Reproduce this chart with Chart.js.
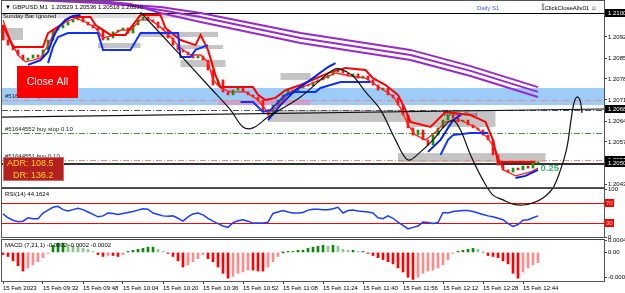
<!DOCTYPE html>
<html>
<head>
<meta charset="utf-8">
<script src="https://cdn.jsdelivr.net/npm/chart.js@4.4.0/dist/chart.umd.min.js"></script>
<style>
  html, body { margin: 0; padding: 0; background: #fff; }
  #wrap { position: relative; width: 625px; height: 293px; overflow: hidden; background: #fff; }
  canvas { position: absolute; left: 0; }
  #priceChart { top: 0; z-index: 3; }
  #rsiChart { top: 182px; z-index: 1; }
  #macdChart { top: 232px; z-index: 2; }
</style>
</head>
<body>
<div id="wrap">
  <canvas id="priceChart" width="625" height="215"></canvas>
  <canvas id="rsiChart" width="625" height="57"></canvas>
  <canvas id="macdChart" width="625" height="61"></canvas>
</div>
<script>
// GBPUSD M1, 15 Feb 2023 - candles drawn per 2 minutes, x = minutes since first bar
const firstBar = '09:16';
const candleStep = 2;
const firstOpen = 1.20960;
const closes = [
  1.20910, 1.20893, 1.20877, 1.20860, 1.20843, 1.20850, 1.20860, 1.20853, 1.20877, 1.20910,
  1.20943, 1.20950, 1.20960, 1.20970, 1.20977, 1.20987, 1.20970, 1.20960, 1.20950, 1.20943,
  1.20910, 1.20917, 1.20937, 1.20943, 1.20950, 1.20933, 1.20960, 1.20977, 1.20987, 1.20977,
  1.20970, 1.20950, 1.20943, 1.20917, 1.20893, 1.20877, 1.20870, 1.20860, 1.20850, 1.20857,
  1.20843, 1.20810, 1.20760, 1.20777, 1.20737, 1.20727, 1.20743, 1.20750, 1.20737, 1.20727,
  1.20720, 1.20710, 1.20677, 1.20660, 1.20693, 1.20710, 1.20727, 1.20743, 1.20737, 1.20750,
  1.20760, 1.20757, 1.20770, 1.20777, 1.20783, 1.20793, 1.20803, 1.20810, 1.20800, 1.20790,
  1.20797, 1.20783, 1.20790, 1.20777, 1.20760, 1.20743, 1.20750, 1.20727, 1.20717, 1.20693,
  1.20660, 1.20617, 1.20593, 1.20610, 1.20577, 1.20560, 1.20593, 1.20617, 1.20643, 1.20660,
  1.20650, 1.20637, 1.20643, 1.20627, 1.20617, 1.20610, 1.20593, 1.20577, 1.20527, 1.20493,
  1.20477, 1.20470, 1.20483, 1.20477, 1.20490, 1.20483, 1.20500, 1.20503
];

// indicator lines [minute, price]; null price = break
const redSlow = [
  [0,1.20960],[4,1.20887],[16,1.20887],[18,1.20933],[23,1.20960],[27,1.20987],[35,1.20987],
  [37,1.20960],[43,1.20927],[49,1.20927],[51,1.20950],[55,1.20993],[63,1.20993],[65,1.20950],
  [71,1.20910],[77,1.20893],[79,1.20927],[82,1.20877],[85,1.20793],[87,1.20753],[100,1.20753],
  [102,1.20727],[105,1.20710],[109,1.20717],[113,1.20743],[119,1.20760],[131,1.20803],
  [137,1.20817],[145,1.20810],[148,1.20783],[153,1.20760],[158,1.20727],[161,1.20677],
  [163,1.20637],[171,1.20620],[177,1.20670],[187,1.20660],[193,1.20637],[196,1.20577],
  [198,1.20503],[213,1.20503]
];
const redFast = [
  [0,1.20977],[3,1.20910],[6,1.20860],[9,1.20837],[12,1.20843],[15,1.20850],[18,1.20893],
  [21,1.20943],[25,1.20970],[29,1.20983],[33,1.20970],[37,1.20950],[40,1.20917],[43,1.20923],
  [47,1.20943],[51,1.20943],[55,1.20977],[59,1.20977],[63,1.20953],[67,1.20920],[71,1.20883],
  [75,1.20860],[79,1.20860],[82,1.20837],[84,1.20777],[87,1.20750],[91,1.20737],[97,1.20737],
  [102,1.20710],[106,1.20667],[109,1.20683],[115,1.20737],[121,1.20757],[127,1.20777],
  [133,1.20800],[139,1.20790],[145,1.20783],[151,1.20750],[156,1.20723],[159,1.20683],
  [162,1.20627],[165,1.20593],[169,1.20577],[173,1.20603],[177,1.20637],[183,1.20643],
  [189,1.20620],[194,1.20583],[197,1.20543],[200,1.20477],[205,1.20457],[211,1.20470],[214,1.20483]
];
const blueFast = [
  [10,1.20827],[15,1.20843],[18,1.20870],[20,1.20917],[22,1.20950],[25,1.20977],[28,1.20990],[31,1.20993],
  [50,null],
  [106,1.20643],[111,1.20693],[117,1.20743],[123,1.20777],[130,1.20820],[133,1.20833],
  [150,null],
  [170,1.20537],[175,1.20577],[180,1.20643],[183,1.20660],
  [195,null],
  [205,1.20450],[209,1.20457],[214,1.20477]
];
const blueSlow = [
  [18,1.20833],[20,1.20887],[22,1.20920],[26,1.20933],[38,1.20933],[40,1.20877],[51,1.20877],
  [55,1.20933],[70,1.20933],[71,1.20853],[75,1.20853],[77,1.20877],[82,1.20893],
  [90,null],
  [95,1.20703],[100,1.20703],[104,1.20670],[107,1.20677],[113,1.20727],[117,1.20737],
  [125,1.20737],[127,1.20750],[131,1.20760],[135,1.20770],[147,1.20770],
  [160,null],
  [175,1.20527],[178,1.20577],[180,1.20593],[187,1.20600],[194,1.20600]
];
const purpleTop = [[11,1.21043],[39,1.21033],[63,1.21020],[79,1.21000],[119,1.20933],[163,1.20877],[187,1.20823],[214,1.20753]];
const purpleMid = [[23,1.21043],[43,1.21033],[63,1.21010],[79,1.20987],[119,1.20917],[163,1.20860],[187,1.20807],[214,1.20737]];
const purpleLow = [[35,1.21043],[51,1.21030],[63,1.21000],[79,1.20970],[119,1.20900],[163,1.20843],[187,1.20790],[214,1.20720]];
const swingCurve = [
  [55,1.21003],[69,1.20877],[83,1.20750],[91,1.20677],[96,1.20620],[100,1.20617],[106,1.20653],
  [112,1.20683],[119,1.20720],[127,1.20777],[132,1.20810],[135,1.20813],[140,1.20790],[145,1.20737],
  [151,1.20677],[157,1.20577],[162,1.20510],[167,1.20537],[172,1.20577],[177,1.20627],[180,1.20643],
  [183,1.20610],[187,1.20527],[192,1.20443],[196,1.20393],[200,1.20377],[204,1.20363],[208,1.20360],
  [212,1.20367],[216,1.20383],[220,1.20417],[223,1.20477],[225.6,1.20553],[227.2,1.20643],
  [228.4,1.20700],[229.6,1.20720],[230.8,1.20710],[231.6,1.20667]
];
const trendPrices = [1.20653, 1.20680];

// objects: [fromMinute, toMinute, highPrice, lowPrice]
const greyZones = [
  [-1, 8, 1.20950, 1.20910],
  [38, 55, 1.20900, 1.20883],
  [55, 86, 1.20937, 1.20920],
  [71, 88, 1.20893, 1.20880],
  [71, 89, 1.20843, 1.20820],
  [111, 123, 1.20800, 1.20777],
  [106, 163, 1.20677, 1.20637],
  [163, 197, 1.20677, 1.20620],
  [158, 217, 1.20533, 1.20503]
];
const sundayZone = [-1, 79, 1.21000, 1.20983];
const mauveZone = [86, 123, 1.20710, 1.20693];
const blueBand = [1.20750, 1.20693];

const topLine = 1.2100;
const tpLevel = 1.2071;
const pivotLevel = 1.20677;
const buyStopLevel = 1.2060;
const buyLevel = 1.2051;
const s1Level = 1.20495;

const priceTicks = [1.2092, 1.2085, 1.2078, 1.2071, 1.2064, 1.2057, 1.2043];
const markedPrices = [1.2100, 1.2068, 1.2051, 1.2050];

const rsiValues = [
  48, 40, 35, 32, 33, 40, 38, 38, 50, 56, 62, 64, 57, 54, 57, 60, 57, 52, 47, 42,
  44, 50, 49, 47, 49, 51, 53, 56, 59, 58, 50, 47, 44, 43, 44, 39, 33, 42, 48, 50,
  46, 39, 33, 28, 23, 20, 30, 34, 36, 33, 29, 29, 29, 31, 49, 52, 55, 52, 50, 50,
  51, 56, 58, 58, 57, 57, 59, 62, 50, 55, 56, 54, 53, 52, 50, 40, 38, 44, 39, 31,
  24, 17, 20, 23, 31, 30, 28, 30, 51, 50, 53, 54, 55, 55, 53, 50, 47, 44, 42, 39,
  36, 28, 22, 26, 35, 36, 40, 44
];
const rsiLevels = [70, 30];

const macdValues = [
  -0.00007, -0.00013, -0.00027, -0.00043, -0.00060, -0.00050, -0.00040, -0.00030, -0.00017, -0.00003,
  0.00023, 0.00030, 0.00030, 0.00027, 0.00020, 0.00017, 0.00013, 0.00010, 0.00003, -0.00007,
  -0.00013, -0.00010, -0.00010, -0.00013, -0.00007, 0.00003, 0.00007, 0.00010, 0.00013, 0.00017,
  0.00017, 0.00010, 0.00003, -0.00003, -0.00013, -0.00027, -0.00047, -0.00040, -0.00030, -0.00020,
  -0.00007, -0.00020, -0.00030, -0.00047, -0.00067, -0.00083, -0.00077, -0.00067, -0.00063, -0.00057,
  -0.00057, -0.00060, -0.00060, -0.00047, -0.00030, -0.00013, 0.00000, 0.00003, 0.00003, 0.00007,
  0.00007, 0.00013, 0.00017, 0.00020, 0.00023, 0.00020, 0.00023, 0.00020, 0.00010, 0.00007,
  0.00007, 0.00003, 0.00003, -0.00003, -0.00010, -0.00017, -0.00023, -0.00030, -0.00037, -0.00050,
  -0.00063, -0.00080, -0.00087, -0.00080, -0.00067, -0.00060, -0.00057, -0.00050, -0.00040, -0.00023,
  -0.00003, 0.00003, 0.00007, 0.00010, 0.00013, 0.00010, 0.00000, -0.00010, -0.00013, -0.00017,
  -0.00027, -0.00037, -0.00067, -0.00083, -0.00063, -0.00050, -0.00040, -0.00033
];
const macdTicks = [0.0004, 0, -0.0008];

const timeTicks = ['09:16', '09:32', '09:48', '10:04', '10:20', '10:36', '10:52', '11:08',
  '11:24', '11:40', '11:56', '12:12', '12:28', '12:44'];

// ---------- helpers ----------
const minutes = t => { const p = t.split(':'); return +p[0] * 60 + +p[1]; };
const pts = arr => arr.map(p => ({x: p[0], y: p[1]}));
const xMin = -0.4, xMax = 240.4;
const FONT = '"Liberation Sans", Arial, sans-serif';

Chart.defaults.font.family = FONT;
Chart.defaults.font.size = 6;
Chart.defaults.color = '#000';

const candles = closes.map((c, i) => ({x: i * candleStep, y: [i === 0 ? firstOpen : closes[i - 1], c]}));

function hLine(ctx, a, y, color, width, dash) {
  ctx.save();
  ctx.strokeStyle = color;
  ctx.lineWidth = width;
  ctx.setLineDash(dash || []);
  const yy = width % 2 ? Math.round(y) + 0.5 : Math.round(y);
  ctx.beginPath();
  ctx.moveTo(a.left, yy);
  ctx.lineTo(a.right, yy);
  ctx.stroke();
  ctx.restore();
}

function frame(ctx, a) {
  ctx.save();
  ctx.strokeStyle = '#555';
  ctx.lineWidth = 1;
  ctx.strokeRect(Math.round(a.left) - 0.5, Math.round(a.top) - 0.5, Math.round(a.right - a.left) + 1, Math.round(a.bottom - a.top) + 1);
  ctx.restore();
}

function axisBox(ctx, a, y, text, bg, fg) {
  ctx.save();
  ctx.fillStyle = bg;
  ctx.fillRect(a.right + 1, Math.round(y) - 4, 20, 8);
  ctx.fillStyle = fg;
  ctx.font = '6px ' + FONT;
  ctx.textBaseline = 'middle';
  ctx.fillText(text, a.right + 4, Math.round(y));
  ctx.restore();
}

const rightAxisFit = s => { s.width = 21; s.paddingTop = 0; s.paddingBottom = 0; };

// ---------- price panel ----------
const priceOverlay = {
  id: 'priceOverlay',
  beforeDatasetsDraw(chart) {
    const {ctx, chartArea: a, scales: {x, y}} = chart;
    ctx.save();
    ctx.beginPath();
    ctx.rect(a.left, a.top, a.right - a.left, a.bottom - a.top);
    ctx.clip();
    const rect = (z, color) => {
      const x0 = x.getPixelForValue(z[0]), x1 = x.getPixelForValue(z[1]);
      const y0 = y.getPixelForValue(z[2]), y1 = y.getPixelForValue(z[3]);
      ctx.fillStyle = color;
      ctx.fillRect(x0, y0, x1 - x0, y1 - y0);
    };
    const b0 = y.getPixelForValue(blueBand[0]), b1 = y.getPixelForValue(blueBand[1]);
    ctx.fillStyle = '#9dccf8';
    ctx.fillRect(a.left, b0, a.right - a.left, b1 - b0);
    rect(sundayZone, '#dedede');
    greyZones.forEach(z => rect(z, '#c4c4c4'));
    rect(mauveZone, '#c9a3cf');

    hLine(ctx, a, y.getPixelForValue(topLine), '#000', 1);
    hLine(ctx, a, y.getPixelForValue(tpLevel), '#f08a78', 1, [6, 2, 1, 2]);
    hLine(ctx, a, y.getPixelForValue(pivotLevel), '#555', 1, [6, 2, 1, 2]);
    hLine(ctx, a, y.getPixelForValue(buyStopLevel), '#3c9a3c', 1, [6, 2, 1, 2]);
    hLine(ctx, a, y.getPixelForValue(buyLevel), '#f08a78', 1, [6, 2, 1, 2]);
    hLine(ctx, a, y.getPixelForValue(s1Level), '#333', 2);
    ctx.restore();

    ctx.save();
    ctx.font = '6px ' + FONT;
    ctx.textBaseline = 'middle';
    ctx.fillStyle = '#222';
    ctx.fillText('#51644544 tp', a.left + 3, y.getPixelForValue(tpLevel) - 4);
    ctx.fillText('#51644552 buy stop 0.10', a.left + 3, y.getPixelForValue(buyStopLevel) - 4);
    ctx.fillText('#51644551 buy 0.10', a.left + 3, y.getPixelForValue(buyLevel) - 4);
    ctx.fillStyle = '#444';
    ctx.fillText('Weekly Pivot', x.getPixelForValue(176), y.getPixelForValue(pivotLevel) + 4);
    ctx.restore();
  },
  afterDatasetsDraw(chart) {
    const {ctx, chartArea: a, scales: {x, y}} = chart;
    ctx.save();
    ctx.font = '6px ' + FONT;
    ctx.textBaseline = 'middle';
    ctx.fillStyle = '#000';
    ctx.fillText('\u25BC GBPUSD,M1  1.20529 1.20536 1.20518 1.20530', a.left + 3, a.top + 6);
    ctx.fillStyle = '#222';
    ctx.fillText('Sunday Bar Ignored', a.left + 1, a.top + 15);
    ctx.fillStyle = '#3a5be0';
    ctx.fillText('Daily S1', a.left + 475, a.top + 7);
    ctx.fillStyle = '#000';
    ctx.textAlign = 'right';
    ctx.fillText('1ClickCloseAllv01 \u263A', a.right - 7, a.top + 7);
    ctx.fillStyle = '#999';
    ctx.textAlign = 'left';
    ctx.fillText('\u25BC', a.left + 538, a.top + 4);

    // Close All button
    ctx.fillStyle = '#ff0000';
    ctx.fillRect(a.left + 15, a.top + 65, 61, 32);
    ctx.fillStyle = '#fff';
    ctx.font = '10.5px ' + FONT;
    ctx.textAlign = 'center';
    ctx.fillText('Close All', a.left + 45.5, a.top + 81);

    // ADR box
    ctx.fillStyle = '#b3201f';
    ctx.fillRect(a.left + 1, a.top + 156, 61, 24);
    ctx.strokeStyle = '#d66';
    ctx.lineWidth = 1;
    ctx.strokeRect(a.left + 1.5, a.top + 156.5, 60, 23);
    ctx.fillStyle = '#ffd21a';
    ctx.font = '9px ' + FONT;
    ctx.textAlign = 'left';
    ctx.fillText('ADR: 108.5', a.left + 5, a.top + 163);
    ctx.fillText('DR: 136.2', a.left + 11, a.top + 175);

    // lot label
    ctx.fillStyle = '#3cb371';
    ctx.font = 'bold 9.5px ' + FONT;
    ctx.fillText('0.25', x.getPixelForValue(215), y.getPixelForValue(1.20483));
    ctx.restore();
  },
  afterDraw(chart) {
    const {ctx, chartArea: a, scales: {y}} = chart;
    frame(ctx, a);
    markedPrices.forEach(p => axisBox(ctx, a, y.getPixelForValue(p), p.toFixed(4), '#000', '#fff'));
  }
};

const lineDs = (data, color, width, order, extra) => Object.assign({
  type: 'line', data: pts(data), borderColor: color, borderWidth: width,
  pointRadius: 0, spanGaps: false, tension: 0, order: order
}, extra || {});

new Chart(document.getElementById('priceChart'), {
  type: 'line',
  data: {
    datasets: [
      {
        type: 'bar', data: candles, barThickness: 2, minBarLength: 1, order: 10,
        backgroundColor: c => (c.raw && c.raw.y[1] >= c.raw.y[0]) ? '#0a9a0a' : '#ff1010'
      },
      lineDs(redFast, '#ff2020', 1.3, 7),
      lineDs(redSlow, '#ff0000', 2, 6),
      lineDs(blueSlow, '#1030ff', 2, 5),
      lineDs(blueFast, '#0020f0', 2, 4),
      lineDs(purpleLow, '#9a28cc', 2, 3),
      lineDs(purpleMid, '#9a28cc', 2, 3),
      lineDs(purpleTop, '#9a28cc', 2, 3),
      lineDs([[xMin, trendPrices[0]], [xMax, trendPrices[1]]], '#111', 1.2, 2),
      lineDs(swingCurve, '#111', 1.2, 1, {tension: 0.35, clip: false})
    ]
  },
  options: {
    responsive: false,
    animation: false,
    events: [],
    layout: {padding: {left: 2, top: 1, right: 0, bottom: 28}},
    plugins: {legend: {display: false}, tooltip: {enabled: false}},
    scales: {
      x: {type: 'linear', min: xMin, max: xMax, display: false, offset: false},
      y: {
        position: 'right', min: 1.2042, max: 1.2104,
        afterBuildTicks: s => { s.ticks = priceTicks.map(v => ({value: v})); },
        afterFit: rightAxisFit,
        ticks: {autoSkip: false, padding: 1, callback: v => v.toFixed(4), font: {size: 6}},
        grid: {drawOnChartArea: false, drawTicks: true, tickLength: 3, color: '#444'},
        border: {display: true, color: '#555'}
      }
    }
  },
  plugins: [priceOverlay]
});

// ---------- RSI panel ----------
const rsiOverlay = {
  id: 'rsiOverlay',
  beforeDatasetsDraw(chart) {
    const {ctx, chartArea: a, scales: {y}} = chart;
    rsiLevels.forEach(l => hLine(ctx, a, y.getPixelForValue(l), '#ff0000', 1));
  },
  afterDraw(chart) {
    const {ctx, chartArea: a, scales: {y}} = chart;
    frame(ctx, a);
    hLine(ctx, a, a.top - 1, '#444', 1);
    ctx.save();
    ctx.font = '6px ' + FONT;
    ctx.textBaseline = 'middle';
    ctx.fillStyle = '#000';
    ctx.fillText('RSI(14) 44.1624', a.left + 3, a.top + 5);
    ctx.restore();
    rsiLevels.forEach(l => {
      const yy = Math.round(y.getPixelForValue(l));
      ctx.save();
      ctx.fillStyle = '#ff0000';
      ctx.fillRect(a.right + 1, yy - 4, 9, 8);
      ctx.fillStyle = '#ffd0d0';
      ctx.font = '6px ' + FONT;
      ctx.textBaseline = 'middle';
      ctx.fillText(String(l), a.right + 2, yy);
      ctx.restore();
    });
  }
};

new Chart(document.getElementById('rsiChart'), {
  type: 'line',
  data: {
    datasets: [{
      data: rsiValues.map((v, i) => ({x: i * candleStep, y: v})),
      borderColor: '#1a3cff', borderWidth: 1.5, pointRadius: 0, tension: 0
    }]
  },
  options: {
    responsive: false,
    animation: false,
    events: [],
    layout: {padding: {left: 2, top: 7, right: 0, bottom: 2}},
    plugins: {legend: {display: false}, tooltip: {enabled: false}},
    scales: {
      x: {type: 'linear', min: xMin, max: xMax, display: false, offset: false},
      y: {
        position: 'right', min: 0, max: 100,
        afterBuildTicks: s => { s.ticks = [100, 0].map(v => ({value: v})); },
        afterFit: rightAxisFit,
        ticks: {autoSkip: false, padding: 1, font: {size: 6}},
        grid: {drawOnChartArea: false, drawTicks: true, tickLength: 3, color: '#444'},
        border: {display: true, color: '#555'}
      }
    }
  },
  plugins: [rsiOverlay]
});

// ---------- MACD panel ----------
const macdOverlay = {
  id: 'macdOverlay',
  afterDraw(chart) {
    const {ctx, chartArea: a} = chart;
    frame(ctx, a);
    hLine(ctx, a, a.top - 1, '#444', 1);
    ctx.save();
    ctx.font = '6px ' + FONT;
    ctx.textBaseline = 'middle';
    ctx.fillStyle = '#000';
    ctx.fillText('MACD (7,21,1) -0.0002 -0.0002 -0.0002', a.left + 3, a.top + 5);
    ctx.restore();
  }
};

const macdColor = c => {
  const i = c.dataIndex;
  const v = macdValues[i];
  const prev = i > 0 ? macdValues[i - 1] : v;
  if (v < 0) return v <= prev ? '#ff0000' : '#ff8a8a';
  return v >= prev ? '#0a8a0a' : '#8cc88c';
};

new Chart(document.getElementById('macdChart'), {
  type: 'bar',
  data: {
    datasets: [{
      data: macdValues.map((v, i) => ({x: i * candleStep, y: v})),
      backgroundColor: macdColor, barThickness: 2, minBarLength: 1
    }]
  },
  options: {
    responsive: false,
    animation: false,
    events: [],
    layout: {padding: {left: 2, top: 8, right: 0, bottom: 0}},
    plugins: {legend: {display: false}, tooltip: {enabled: false}},
    scales: {
      x: {
        type: 'linear', min: xMin, max: xMax, offset: false,
        afterBuildTicks: s => { s.ticks = timeTicks.map(t => ({value: minutes(t) - minutes(firstBar)})); },
        afterFit: s => { s.height = 12; s.paddingLeft = 0; s.paddingRight = 0; },
        ticks: {
          autoSkip: false, maxRotation: 0, align: 'start', padding: 1, font: {size: 6},
          callback: (v, i) => i === 0 ? '15 Feb 2023' : '15 Feb ' + timeTicks[i]
        },
        grid: {drawOnChartArea: false, drawTicks: true, tickLength: 3, color: '#444', offset: false},
        border: {display: true, color: '#555'}
      },
      y: {
        position: 'right', min: -0.00092, max: 0.0004,
        afterBuildTicks: s => { s.ticks = macdTicks.map(v => ({value: v})); },
        afterFit: rightAxisFit,
        ticks: {autoSkip: false, padding: 1, font: {size: 6}, callback: v => v === 0 ? '0.00' : v.toFixed(4)},
        grid: {drawOnChartArea: false, drawTicks: true, tickLength: 3, color: '#444'},
        border: {display: true, color: '#555'}
      }
    }
  },
  plugins: [macdOverlay]
});
</script>
</body>
</html>
